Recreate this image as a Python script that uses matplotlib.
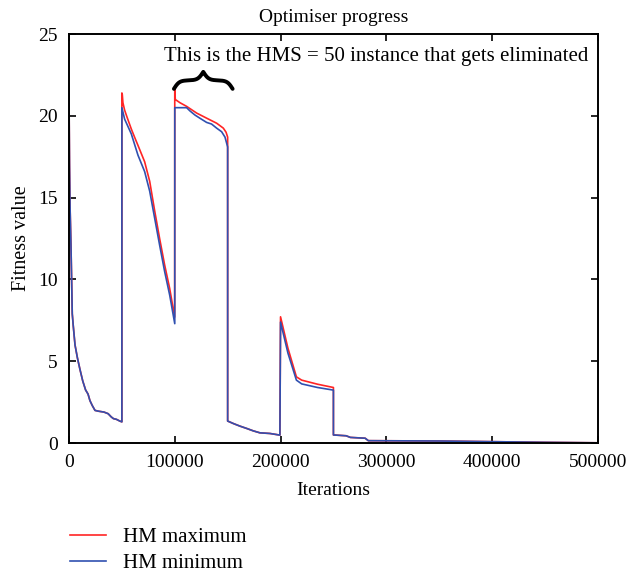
import numpy as np
import matplotlib
matplotlib.use("Agg")
import matplotlib.pyplot as plt

plt.rcParams['font.family'] = ['Liberation Serif', 'DejaVu Serif']

# HM maximum (red)
max_iter = [0, 500, 1000, 1900, 3100, 4000, 5700, 8000, 10400, 13000, 15700, 18000,
            19800, 22000, 24600, 28000, 33000, 37000, 40000, 42000, 45000, 48000, 50000,
            50000, 50400, 51000, 52600, 55000, 58900, 62000, 65200, 71500, 76300, 81000,
            85700, 90400, 95200, 99900,
            100000, 100500, 105000, 111200, 120700, 130100, 139600, 145900, 148500, 150000,
            150000, 155300, 161600, 167900, 174200, 180500, 190000, 199400,
            200000, 207000, 215000, 220000, 235000, 250000,
            250000, 262000, 266000, 280000, 283000, 350000, 400000, 450000, 500000]
max_val = [21.5, 17.0, 14.5, 12.0, 7.9, 7.2, 6.0, 5.2, 4.5, 3.8, 3.25, 3.0,
           2.6, 2.3, 2.0, 1.95, 1.9, 1.8, 1.6, 1.5, 1.45, 1.35, 1.3,
           21.4, 21.3, 20.8, 20.35, 19.9, 19.2, 18.7, 18.2, 17.2, 16.0, 14.2,
           12.5, 10.9, 9.45, 7.7,
           21.7, 21.0, 20.8, 20.58, 20.17, 19.86, 19.55, 19.25, 19.0, 18.7,
           1.35, 1.2, 1.04, 0.9, 0.75, 0.63, 0.59, 0.49,
           7.72, 5.8, 4.05, 3.85, 3.6, 3.4,
           0.5, 0.45, 0.35, 0.3, 0.15, 0.13, 0.09, 0.05, 0.02]

# HM minimum (blue)
min_iter = [0, 500, 1000, 1900, 3100, 4000, 5700, 8000, 10400, 13000, 15700, 18000,
            19800, 22000, 24600, 28000, 33000, 37000, 40000, 42000, 45000, 48000, 50000,
            50000, 52600, 58900, 65200, 71500, 76300, 81000, 85700, 90400, 95200, 100000,
            100000, 111200, 114400, 119100, 123900, 130100, 134800, 139600, 144300, 147500, 150000,
            150000, 155300, 161600, 167900, 174200, 180500, 190000, 199400,
            200000, 207000, 215000, 220000, 235000, 250000,
            250000, 262000, 266000, 280000, 283000, 350000, 400000, 450000, 500000]
min_val = [21.5, 17.0, 14.5, 12.0, 7.9, 7.2, 6.0, 5.2, 4.5, 3.8, 3.25, 3.0,
           2.6, 2.3, 2.0, 1.95, 1.9, 1.8, 1.6, 1.5, 1.45, 1.35, 1.3,
           20.5, 19.8, 18.9, 17.6, 16.6, 15.4, 13.75, 12.1, 10.5, 9.05, 7.3,
           20.5, 20.5, 20.3, 20.05, 19.85, 19.6, 19.5, 19.25, 19.03, 18.7, 18.1,
           1.35, 1.2, 1.04, 0.9, 0.75, 0.63, 0.59, 0.49,
           7.4, 5.5, 3.85, 3.62, 3.4, 3.24,
           0.5, 0.45, 0.35, 0.3, 0.15, 0.13, 0.09, 0.05, 0.02]

x_ticks = [0, 100000, 200000, 300000, 400000, 500000]
y_ticks = [0, 5, 10, 15, 20, 25]

fig = plt.figure(figsize=(6.3, 5.77), dpi=100)
ax = fig.add_axes([0.1095, 0.232, 0.8395, 0.709])

ax.plot(max_iter, max_val, color='#ff2525', lw=1.2, label='HM maximum')
ax.plot(min_iter, min_val, color='#3050b0', lw=1.2, label='HM minimum')

ax.set_xlim(0, 500000)
ax.set_ylim(0, 25)
ax.set_xticks(x_ticks)
ax.set_xticklabels([str(t) for t in x_ticks])
ax.set_yticks(y_ticks)
ax.tick_params(direction='in', top=True, right=True, labelsize=14, length=5, width=1.2)
ax.tick_params(axis='x', pad=8)
ax.tick_params(axis='y', pad=8)
for s in ax.spines.values():
    s.set_linewidth(1.4)

ax.set_title('Optimiser progress', fontsize=14, pad=9)
ax.set_xlabel('Iterations', fontsize=14, labelpad=8)
ax.set_ylabel('Fitness value', fontsize=14.5, labelpad=5)

# curly brace over the eliminated instance
x0, x1 = 99200, 154700
n = 201
bx = np.linspace(x0, x1, n)
beta = 11.0 / ((x1 - x0) / 2)
half = bx[:n // 2 + 1]
hy = 1 / (1 + np.exp(-beta * (half - half[0]))) + 1 / (1 + np.exp(-beta * (half - half[-1])))
by = np.concatenate((hy, hy[-2::-1]))
ax.plot(bx, 21.65 + 1.04 * (by - 0.5), color='black', lw=2.8, solid_capstyle='round')

ax.text(290000, 23.6, 'This is the HMS = 50 instance that gets eliminated',
        ha='center', va='center', fontsize=15)

fig.legend(loc='center left', bbox_to_anchor=(0.111, 0.046), frameon=False,
           fontsize=15, handlelength=1.75, handletextpad=0.8, labelspacing=0.3,
           borderpad=0, borderaxespad=0)

fig.savefig('out.png', dpi=100)
